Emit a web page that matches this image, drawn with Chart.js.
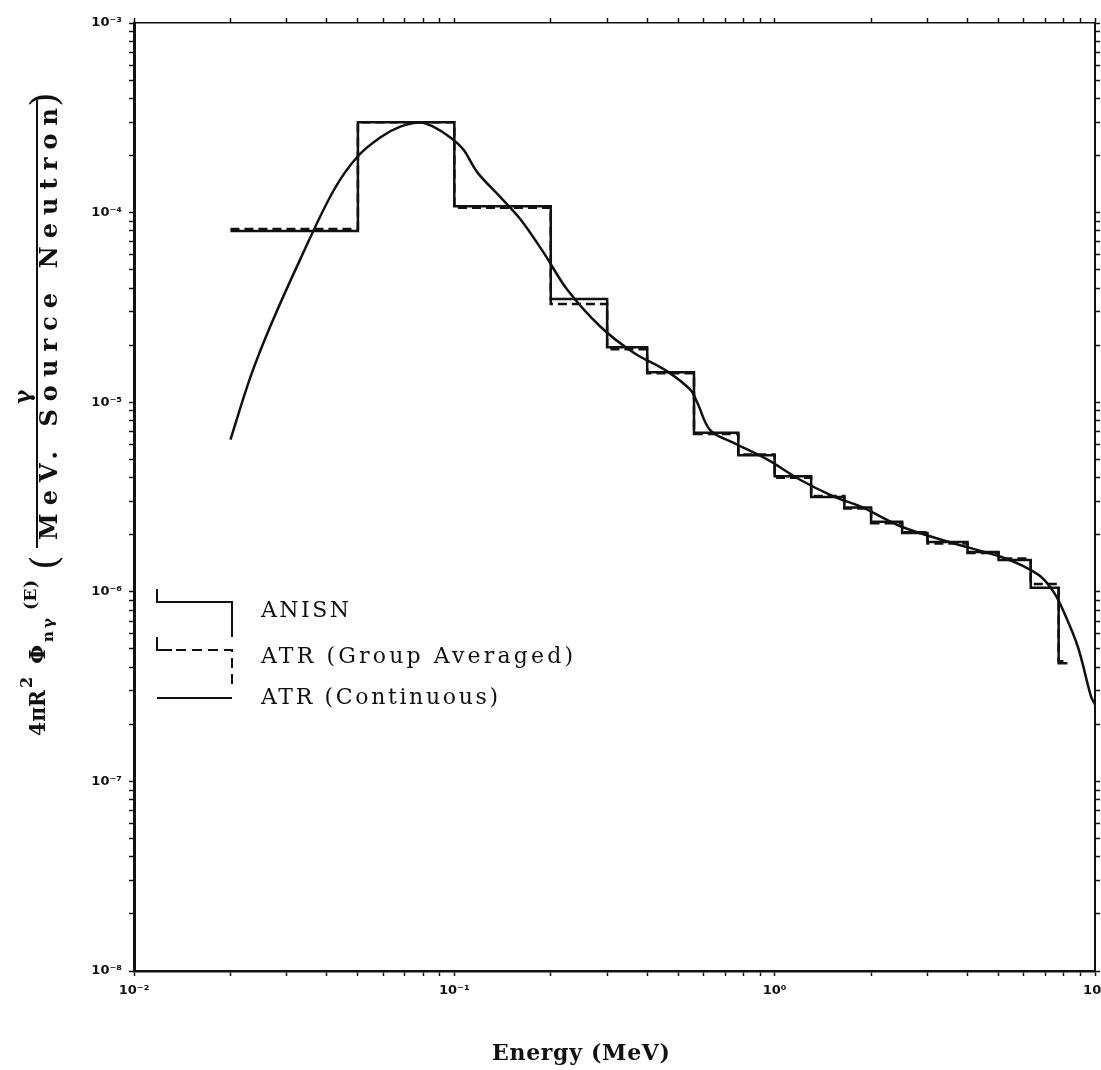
<!DOCTYPE html>
<html>
<head>
<meta charset="utf-8">
<script src="https://cdn.jsdelivr.net/npm/chart.js@4.4.0/dist/chart.umd.min.js"></script>
<style>
  html, body { margin: 0; padding: 0; background: #fff; }
  #wrap { width: 1101px; height: 1070px; }
</style>
</head>
<body>
<div id="wrap"><canvas id="myChart" width="1101" height="1070"></canvas></div>
<script>
"use strict";

// energy group boundaries (MeV)
const groupEdges = [0.02, 0.05, 0.1, 0.2, 0.3, 0.4, 0.56, 0.77, 1.0, 1.3, 1.65, 2.0, 2.5, 3.0, 4.0, 5.0, 6.3, 7.7, 8.2];
// group fluxes, one per group
const anisnFlux = [8.0e-5, 3.0e-4, 1.08e-4, 3.5e-5, 1.95e-5, 1.44e-5, 6.9e-6, 5.25e-6, 4.07e-6, 3.16e-6, 2.78e-6, 2.34e-6, 2.04e-6, 1.83e-6, 1.62e-6, 1.47e-6, 1.05e-6, 4.2e-7];
const atrGroupFlux = [8.2e-5, 3.0e-4, 1.06e-4, 3.3e-5, 1.9e-5, 1.42e-5, 6.8e-6, 5.3e-6, 4.0e-6, 3.2e-6, 2.75e-6, 2.3e-6, 2.06e-6, 1.8e-6, 1.6e-6, 1.5e-6, 1.1e-6, 4.3e-7];

// continuous ATR curve
const contEnergy = [0.02, 0.0231, 0.0266, 0.033, 0.0419, 0.0498, 0.0587, 0.0678, 0.0783, 0.0859, 0.0972, 0.1067, 0.118, 0.139, 0.161, 0.19, 0.225, 0.286, 0.362, 0.463, 0.546, 0.574, 0.63, 0.745, 0.95, 1.2, 1.53, 1.86, 2.48, 3.55, 5.08, 6.0, 6.78, 7.45, 8.0, 8.85, 9.72, 10];
const contFlux = [6.35e-6, 1.36e-5, 2.5e-5, 5.65e-5, 1.3e-4, 1.97e-4, 2.49e-4, 2.84e-4, 2.99e-4, 2.84e-4, 2.49e-4, 2.15e-4, 1.63e-4, 1.21e-4, 9.2e-5, 6.15e-5, 3.93e-5, 2.5e-5, 1.83e-5, 1.45e-5, 1.16e-5, 9.9e-6, 7.1e-6, 6.1e-6, 4.98e-6, 3.9e-6, 3.18e-6, 2.81e-6, 2.21e-6, 1.82e-6, 1.53e-6, 1.36e-6, 1.2e-6, 9.9e-7, 7.8e-7, 5.1e-7, 2.8e-7, 2.55e-7];

// tick labels
const xDecades = [0.01, 0.1, 1, 10];
const xDecadeLabels = ["10\u207B\u00B2", "10\u207B\u00B9", "10\u2070", "10\u00B9"];
const yDecades = [1e-8, 1e-7, 1e-6, 1e-5, 1e-4, 1e-3];
const yDecadeLabels = ["10\u207B\u2078", "10\u207B\u2077", "10\u207B\u2076", "10\u207B\u2075", "10\u207B\u2074", "10\u207B\u00B3"];

const legendNames = ["ANISN", "ATR (Group Averaged)", "ATR (Continuous)"];

function stepPoints(edges, vals) {
  let pts = [];
  for (let i = 0; i < vals.length; i++) {
    pts.push({ x: edges[i], y: vals[i] });
  }
  pts.push({ x: edges[edges.length - 1], y: vals[vals.length - 1] });
  return pts;
}

function labelFor(decades, labels) {
  return function (value) {
    for (let i = 0; i < decades.length; i++) {
      if (Math.abs(value / decades[i] - 1) < 1e-6) return labels[i];
    }
    return "";
  };
}

// drop the 1.5 x 10^n ticks chart.js adds, keep 1..9
function keepIntegerMinor(scale) {
  scale.ticks = scale.ticks.filter(t => {
    let m = t.value / Math.pow(10, Math.floor(Math.log10(t.value) + 1e-9));
    return Math.abs(m - Math.round(m)) < 1e-6;
  });
}

const ink = "#111";
const serif = "'DejaVu Serif'";

// fit text to a length: extra room goes to letter spacing, too long gets squeezed
function spread(ctx, str, len) {
  if (!len) return 1;
  let w = ctx.measureText(str).width;
  if (len > w && "letterSpacing" in ctx && str.length > 1) {
    ctx.letterSpacing = ((len - w) / (str.length - 1)) + "px";
    return 1;
  }
  return len / w;
}

// rotated text, baseline at screen x = sx, running upward from sy
function vText(ctx, str, sx, sy, font, len) {
  ctx.save();
  ctx.translate(sx, sy);
  ctx.rotate(-Math.PI / 2);
  ctx.font = font;
  ctx.textAlign = "left";
  ctx.textBaseline = "alphabetic";
  let k = spread(ctx, str, len);
  if (k !== 1) ctx.scale(k, 1);
  ctx.fillText(str, 0, 0);
  ctx.restore();
}

function hText(ctx, str, x, y, font, len) {
  ctx.save();
  ctx.font = font;
  ctx.textAlign = "left";
  ctx.textBaseline = "middle";
  ctx.translate(x, y);
  let k = spread(ctx, str, len);
  if (k !== 1) ctx.scale(k, 1);
  ctx.fillText(str, 0, 0);
  ctx.restore();
}

const annotations = {
  id: "annotations",
  afterDraw(chart) {
    const ctx = chart.ctx;
    ctx.save();
    ctx.fillStyle = ink;
    ctx.strokeStyle = ink;

    // legend keys
    ctx.lineWidth = 2;
    ctx.beginPath();
    ctx.moveTo(157, 589); ctx.lineTo(157, 602); ctx.lineTo(232, 602); ctx.lineTo(232, 637);
    ctx.stroke();
    ctx.beginPath();
    ctx.moveTo(157, 637); ctx.lineTo(157, 650); ctx.lineTo(172, 650);
    ctx.stroke();
    ctx.setLineDash([10, 6]);
    ctx.beginPath();
    ctx.moveTo(176, 650); ctx.lineTo(232, 650); ctx.lineTo(232, 688);
    ctx.stroke();
    ctx.setLineDash([]);
    ctx.beginPath();
    ctx.moveTo(157, 698); ctx.lineTo(232, 698);
    ctx.stroke();

    const lf = "22px " + serif;
    hText(ctx, legendNames[0], 261, 611, lf, 88);
    hText(ctx, legendNames[1], 261, 657, lf, 312);
    hText(ctx, legendNames[2], 261, 698, lf, 237);

    // x axis title
    hText(ctx, "Energy (MeV)", 492, 1054, "bold 22px " + serif, 178);

    // y axis title
    vText(ctx, "4\u03C0R", 45, 736, "bold 22px " + serif, 46);
    vText(ctx, "2", 32, 688, "bold 16px " + serif);
    vText(ctx, "\u03A6", 45, 664, "bold 22px " + serif);
    vText(ctx, "n\u03B3", 53, 642, "bold 15px " + serif, 24);
    vText(ctx, "(E)", 36, 610, "bold 17px " + serif, 30);
    vText(ctx, "(", 57, 570, "38px " + serif);
    vText(ctx, "\u03B3", 30, 404, "bold 22px " + serif);
    ctx.lineWidth = 2;
    ctx.beginPath();
    ctx.moveTo(37, 548); ctx.lineTo(37, 100);
    ctx.stroke();
    vText(ctx, "MeV. Source Neutron", 57, 540, "bold 24px " + serif, 432);
    vText(ctx, ")", 57, 107, "38px " + serif);
    ctx.restore();
  }
};

function axisStyle(pos, size, borderW, showLabels, labeler) {
  return {
    type: "logarithmic",
    position: pos,
    afterFit: s => {
      if (pos === "top" || pos === "bottom") {
        s.height = size;
        s.paddingLeft = 0;
        s.paddingRight = 0;
      } else {
        s.width = size;
        s.paddingTop = 0;
        s.paddingBottom = 0;
      }
    },
    afterBuildTicks: keepIntegerMinor,
    grid: { drawOnChartArea: false, drawTicks: true, tickLength: 5, color: ink, tickWidth: 1.5 },
    border: { display: true, color: ink, width: borderW },
    ticks: {
      display: showLabels,
      autoSkip: false,
      maxRotation: 0,
      minRotation: 0,
      padding: 7,
      color: ink,
      font: { family: "DejaVu Sans", weight: "bold", size: 13 },
      callback: labeler
    }
  };
}

const xScale = axisStyle("bottom", 99, 2.5, true, labelFor(xDecades, xDecadeLabels));
xScale.min = 0.01; xScale.max = 10;
const xTop = axisStyle("top", 23, 1.5, false, labelFor(xDecades, xDecadeLabels));
xTop.min = 0.01; xTop.max = 10;
const yScale = axisStyle("left", 134, 3, true, labelFor(yDecades, yDecadeLabels));
yScale.min = 1e-8; yScale.max = 1e-3;
const yRight = axisStyle("right", 6, 2, false, labelFor(yDecades, yDecadeLabels));
yRight.min = 1e-8; yRight.max = 1e-3;

const config = {
  type: "line",
  data: {
    datasets: [
      {
        label: legendNames[1],
        data: stepPoints(groupEdges, atrGroupFlux),
        stepped: true,
        borderColor: ink,
        borderWidth: 2.5,
        borderDash: [9, 5],
        pointRadius: 0,
        fill: false,
        xAxisID: "x",
        yAxisID: "y"
      },
      {
        label: legendNames[0],
        data: stepPoints(groupEdges, anisnFlux),
        stepped: true,
        borderColor: ink,
        borderWidth: 2.5,
        pointRadius: 0,
        fill: false,
        xAxisID: "x",
        yAxisID: "y"
      },
      {
        label: legendNames[2],
        data: contEnergy.map((e, i) => ({ x: e, y: contFlux[i] })),
        borderColor: ink,
        borderWidth: 2.5,
        tension: 0.35,
        pointRadius: 0,
        fill: false,
        xAxisID: "x",
        yAxisID: "y"
      }
    ]
  },
  options: {
    responsive: false,
    animation: false,
    layout: { padding: 0 },
    plugins: { legend: { display: false }, tooltip: { enabled: false } },
    scales: { x: xScale, x2: xTop, y: yScale, y2: yRight }
  },
  plugins: [annotations]
};

const canvasChart = document.getElementById("myChart");
new Chart(canvasChart, config);
</script>
</body>
</html>
